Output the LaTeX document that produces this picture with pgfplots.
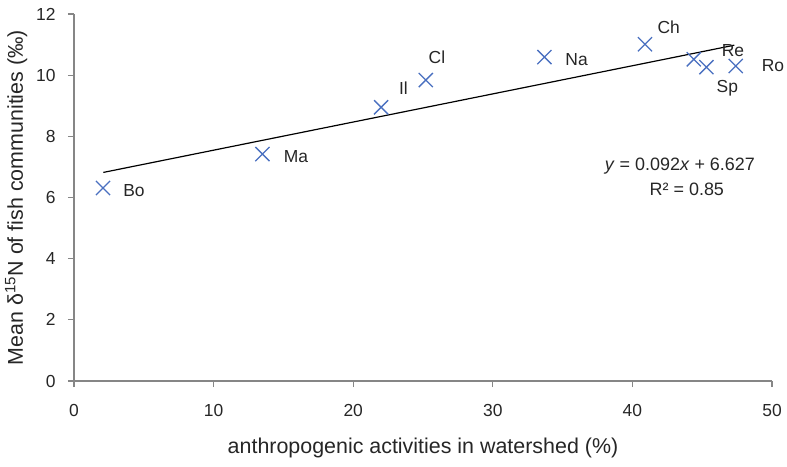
\documentclass[border=0pt]{standalone}
\usepackage{pgfplots}
\pgfplotsset{compat=1.18}
\usepackage{fontspec}
\setmainfont{Liberation Sans}
\definecolor{markblue}{RGB}{74,112,192}
\definecolor{axgray}{RGB}{134,134,134}
\definecolor{txt}{RGB}{38,38,38}

\pgfplotstableread{
x     y
2.08  6.31
13.5  7.42
22.0  8.95
25.2  9.84
33.7  10.59
40.9  11.01
44.4  10.52
45.3  10.26
47.4  10.30
}\fishdata

\begin{document}
\begin{tikzpicture}
\path[use as bounding box] (-74bp,-86bp) rectangle (713bp,381bp);
\begin{axis}[
  at={(0,0)}, anchor=south west,
  scale only axis,
  width=698bp, height=367bp,
  xmin=0, xmax=50, ymin=0, ymax=12,
  xtick={0,10,...,50}, ytick={0,2,...,12},
  axis lines*=left,
  axis line style={axgray, line width=1.2pt},
  tick style={axgray, line width=1.2pt},
  tick align=outside,
  major tick length=6bp,
  minor tick num=0,
  /pgf/number format/assume math mode=true,
  ticklabel style={font=\fontsize{17.5}{20}\selectfont, text=txt},
  xticklabel style={yshift=-14bp},
  yticklabel style={xshift=-9bp},
  xlabel={anthropogenic activities in watershed (\%)},
  ylabel={Mean δ\textsuperscript{15}N of fish communities (‰)},
  label style={font=\fontsize{21.5}{25}\selectfont, text=txt},
  xlabel style={yshift=-14bp},
  ylabel style={yshift=2bp},
  clip=false,
]
\addplot[black, line width=1.2pt] coordinates {(2.1,6.82) (47.3,10.98)};
\addplot[only marks, mark=x, mark size=10bp, markblue, mark options={line width=1.3pt}]
  table[x=x, y=y] {\fishdata};
\begin{scope}[every node/.style={font=\fontsize{17.5}{20}\selectfont, text=txt, inner sep=0pt}]
\node at (axis cs:4.3,6.21) {Bo};
\node at (axis cs:15.9,7.33) {Ma};
\node at (axis cs:23.6,9.58) {Il};
\node at (axis cs:26.0,10.6) {Cl};
\node at (axis cs:36.0,10.5) {Na};
\node at (axis cs:42.6,11.57) {Ch};
\node at (axis cs:47.2,10.79) {Re};
\node at (axis cs:46.8,9.58) {Sp};
\node at (axis cs:50.07,10.3) {Ro};
\end{scope}
\node[font=\fontsize{18}{21}\selectfont, text=txt, inner sep=0pt] at (axis cs:43.4,7.03)
  {\textit{y} = 0.092\textit{x} + 6.627};
\node[font=\fontsize{18}{21}\selectfont, text=txt, inner sep=0pt] at (axis cs:43.9,6.28)
  {R² = 0.85};
\end{axis}
\end{tikzpicture}
\end{document}
